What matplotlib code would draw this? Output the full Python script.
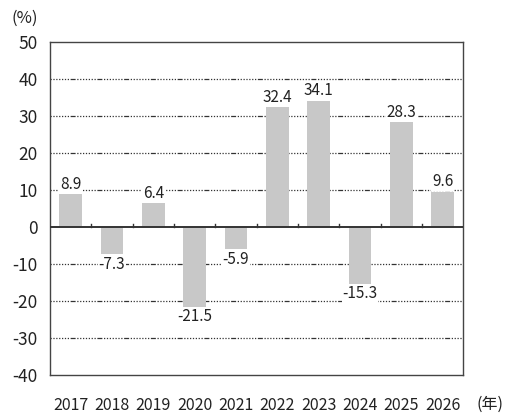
import matplotlib
matplotlib.use('Agg')
import matplotlib.pyplot as plt
import numpy as np

plt.rcParams['font.family'] = ['Noto Sans CJK JP', 'DejaVu Sans']

# データ
years = ['2017', '2018', '2019', '2020', '2021', '2022', '2023', '2024', '2025', '2026']
growth = [8.9, -7.3, 6.4, -21.5, -5.9, 32.4, 34.1, -15.3, 28.3, 9.6]
yticks = [-40, -30, -20, -10, 0, 10, 20, 30, 40, 50]

fig = plt.figure(figsize=(5.07, 4.16), dpi=100)
ax = fig.add_axes([0.0986, 0.0986, 0.815, 0.80])

x = np.arange(len(years))
ax.bar(x, growth, width=0.55, color='#c8c8c8', zorder=2)

# 点線グリッド（ところどころ長い線）
pat = (0, (1, 1.3) * 7 + (4, 1.3))
for v in yticks:
    if v not in (0, 50, -40):
        ax.axhline(v, color='#333333', lw=0.9, linestyle=pat, zorder=1)
ax.axhline(0, color='#333333', lw=1.4, zorder=3)

# 数値ラベル
for xi, v in zip(x, growth):
    if v >= 0:
        ax.text(xi, v + 0.4, f'{v:.1f}', ha='center', va='bottom', fontsize=11,
                color='#222222', zorder=4,
                bbox=dict(facecolor='white', edgecolor='none', pad=0.5))
    else:
        ax.text(xi, v - 0.5, f'{v:.1f}', ha='center', va='top', fontsize=11,
                color='#222222', zorder=4,
                bbox=dict(facecolor='white', edgecolor='none', pad=0.5))

# ゼロ線上の区切り目盛
for b in x[:-1] + 0.5:
    ax.plot([b, b], [0, 0.9], color='#333333', lw=1.0, zorder=3)

ax.set_xlim(-0.5, len(years) - 0.5)
ax.set_ylim(-40, 50)
ax.set_yticks(yticks)
ax.set_yticklabels([str(v) for v in yticks], fontsize=12.5, color='#222222')
ax.set_xticks(x)
ax.set_xticklabels(years, fontsize=11.5, color='#222222')
ax.tick_params(axis='x', length=0, pad=16)
ax.tick_params(axis='y', length=0, pad=9)

for s in ax.spines.values():
    s.set_color('#444444')
    s.set_linewidth(1.0)

fig.text(0.022, 0.957, '(%)', fontsize=12, color='#222222', ha='left', va='center')
fig.text(0.967, 0.028, '(年)', fontsize=11.5, color='#222222', ha='center', va='center')

fig.savefig('out.png', dpi=100)
